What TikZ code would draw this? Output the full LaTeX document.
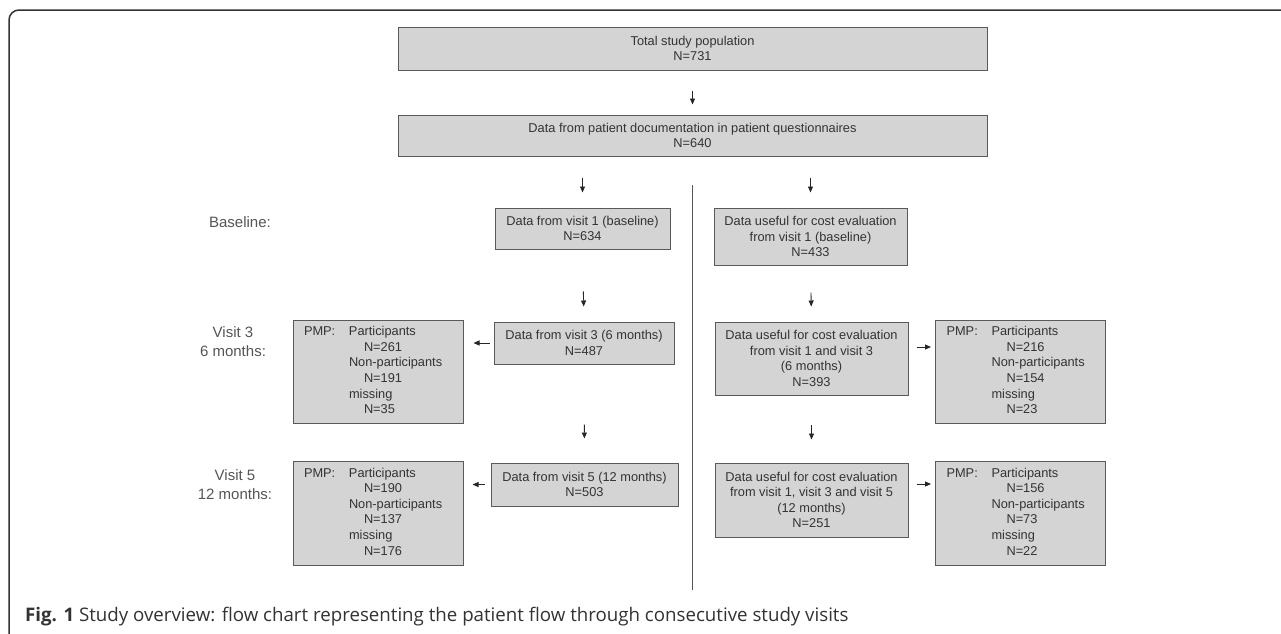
\documentclass[tikz,border=0pt]{standalone}
\usepackage{fontspec}
\setmainfont{Liberation Sans}
\newfontfamily\capfont{Open Sans}
\usetikzlibrary{arrows.meta}
\definecolor{boxfill}{HTML}{D4D4D4}
\definecolor{boxline}{HTML}{5A5A5A}
\definecolor{txt}{HTML}{333333}
\definecolor{lbl}{HTML}{555555}
\definecolor{frame}{HTML}{333333}
\newcommand{\pmptab}[3]{\raisebox{-3pt}{\begin{tabular}{@{}p{45pt}@{}l@{}}PMP: & Participants\\ & \hspace{15pt}N=#1\\ & Non-participants\\ & \hspace{15pt}N=#2\\ & missing\\ & \hspace{15pt}N=#3\end{tabular}}}
\tikzset{
  box/.style={draw=boxline, fill=boxfill, line width=1pt, text=txt, align=center,
    inner sep=0pt, font=\fontsize{12.8}{15.6}\selectfont},
  pmp/.style={box, align=left, text width=148pt, inner xsep=11pt},
  lab/.style={text=lbl, align=center, font=\fontsize{15}{19}\selectfont},
  arr/.style={draw=black!85, line width=0.9pt, -{Triangle[length=6pt,width=5pt]}},
  vline/.style={draw=lbl, line width=1pt}
}
\begin{document}
\begin{tikzpicture}[x=1pt,y=-1pt]
\useasboundingbox (0,0) rectangle (1281,633);
\clip (0,0) rectangle (1281,633);
\fill[white] (0,0) rectangle (1281,633);
\draw[frame, line width=1.5pt, rounded corners=10pt] (1300,10) -- (9,10) -- (9,660);

% top boxes
\node[box, minimum width=589pt, minimum height=43pt] (tot) at (692.5,48.5) {Total study population\\N=731};
\node[box, minimum width=589pt, minimum height=41pt] (dat) at (692.5,135.5) {Data from patient documentation in patient questionnaires\\N=640};

% left column
\node[box, minimum width=175pt, minimum height=41pt] (v1) at (582.5,228.5) {Data from visit 1 (baseline)\\N=634};
\node[box, minimum width=180pt, minimum height=42pt] (v3) at (584,343) {Data from visit 3 (6 months)\\N=487};
\node[box, minimum width=187pt, minimum height=43pt] (v5) at (584.5,484.5) {Data from visit 5 (12 months)\\N=503};

\node[pmp, minimum height=103pt] (p3) at (378,371.5) {\pmptab{261}{191}{35}};
\node[pmp, minimum height=104pt] (p5) at (378,513) {\pmptab{190}{137}{176}};

% right column
\node[box, minimum width=193pt, minimum height=57pt] (c1) at (810.5,236.5) {Data useful for cost evaluation\\from visit 1 (baseline)\\N=433};
\node[box, minimum width=193pt, minimum height=73pt] (c3) at (811.5,358.5) {Data useful for cost evaluation\\from visit 1 and visit 3\\(6 months)\\N=393};
\node[box, minimum width=193pt, minimum height=74pt] (c5) at (811.5,500) {Data useful for cost evaluation\\from visit 1, visit 3 and visit 5\\(12 months)\\N=251};

\node[pmp, minimum height=103pt] (q3) at (1020.5,371.5) {\pmptab{216}{154}{23}};
\node[pmp, minimum height=104pt] (q5) at (1020.5,513) {\pmptab{156}{73}{22}};

% row labels
\node[lab] (lb) at (240,222) {Baseline:};
\node[lab] (l3) at (233,342) {Visit 3\\6 months:};
\node[lab] (l5) at (235,485) {Visit 5\\12 months:};

% divider
\coordinate (dtop) at (692,185);
\coordinate (dbot) at (692,590);
\draw[vline] (dtop) -- (dbot);

% arrows
\draw[arr, shorten <=20pt, shorten >=10pt] (tot) -- (dat);
\draw[arr, shorten <=21pt, shorten >=15pt] (dat.south -| v1) -- (v1.north);
\draw[arr, shorten <=21pt, shorten >=15pt] (dat.south -| c1) -- (c1.north);
\draw[arr, shorten <=42pt, shorten >=15pt] (v1.south) -- (v3.north);
\draw[arr, shorten <=27pt, shorten >=15pt] (c1.south) -- (c3.north);
\draw[arr, shorten <=60pt, shorten >=24pt] (v3.south) -- (v5.north);
\draw[arr, shorten <=29pt, shorten >=23pt] (c3.south) -- (c5.north);
\draw[arr, shorten <=4pt, shorten >=10pt] (v3.west) -- (v3.west -| p3.east);
\draw[arr, shorten <=6pt, shorten >=9pt] (v5.west) -- (v5.west -| p5.east);
\draw[arr, shorten <=8pt, shorten >=4pt] ([yshift=11.5pt]c3.east) -- ([yshift=11.5pt]c3.east -| q3.west);
\draw[arr, shorten <=8pt, shorten >=4pt] ([yshift=16pt]c5.east) -- ([yshift=16pt]c5.east -| q5.west);

% caption
\node[anchor=west, inner sep=0pt, text=txt, font=\capfont\fontsize{18.7}{22}\selectfont] (cap) at (25,617) {\textbf{Fig. 1} Study overview: flow chart representing the patient flow through consecutive study visits};
\end{tikzpicture}
\end{document}
